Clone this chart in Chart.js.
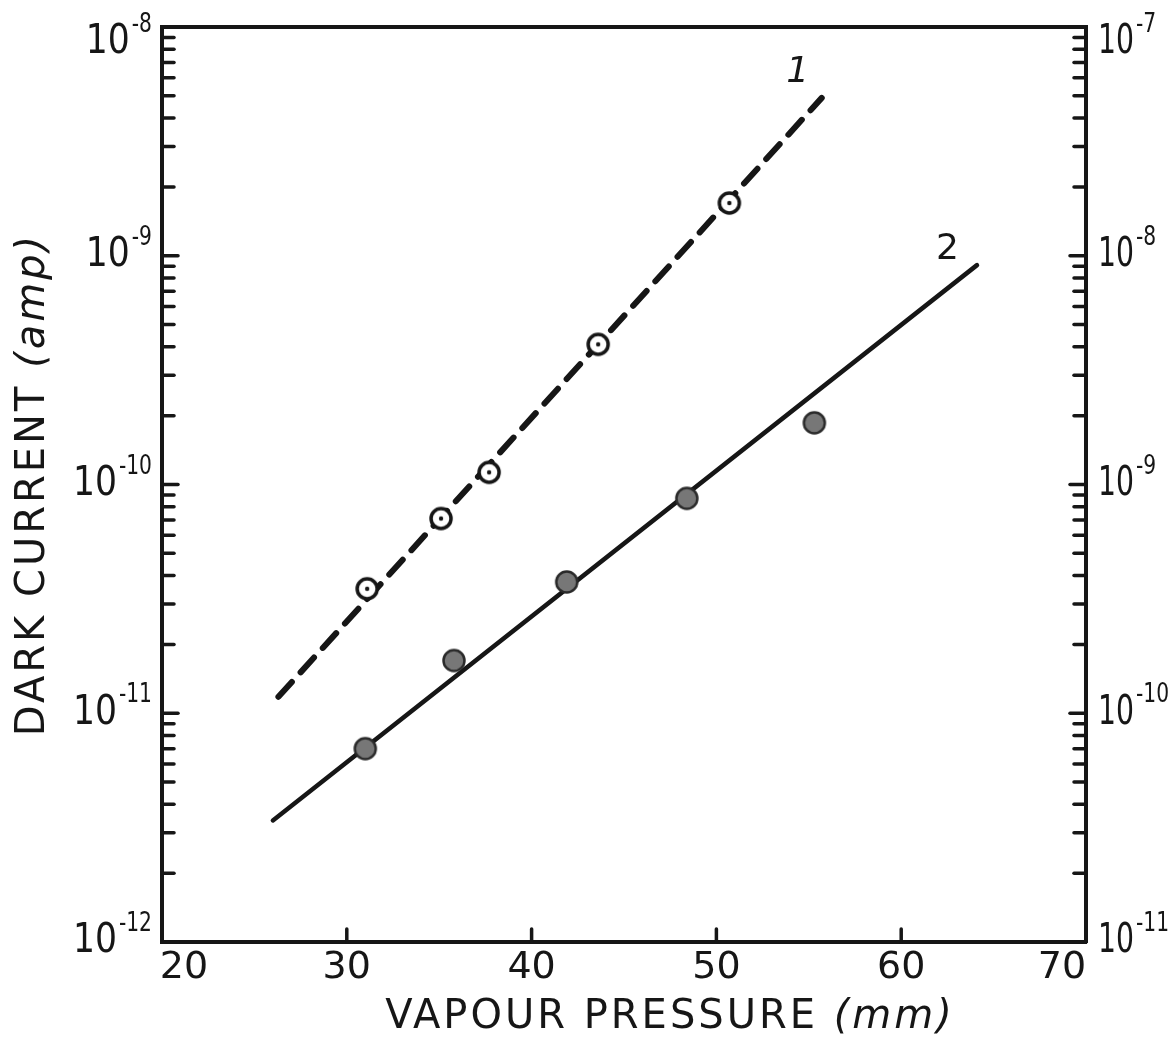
<!DOCTYPE html>
<html>
<head>
<meta charset="utf-8">
<title>Dark current vs vapour pressure</title>
<script src="https://cdn.jsdelivr.net/npm/chart.js@4.4.1/dist/chart.umd.min.js"></script>
<style>
  html, body { margin: 0; padding: 0; background: #fff; }
  #wrap { width: 1172px; height: 1042px; position: relative; }
</style>
</head>
<body>
<div id="wrap"><canvas id="chart"></canvas></div>
<script>
// Curve 1: open circles, dashed fit
const pressure1 = [31.1, 35.1, 37.7, 43.6, 50.7];
const current1 = [3.5e-11, 7.1e-11, 1.13e-10, 4.1e-10, 1.7e-9];
// Curve 2: filled circles, solid fit
const pressure2 = [31.0, 35.8, 41.9, 48.4, 55.3];
const current2 = [7.0e-12, 1.7e-11, 3.75e-11, 8.7e-11, 1.86e-10];

// End points of the straight fits
const fit1Pressure = [26.3, 55.7];
const fit1Current = [1.18e-11, 4.9e-9];
const fit2Pressure = [26.0, 64.1];
const fit2Current = [3.4e-12, 9.1e-10];

// Curve numbers
const curveNames = ['1', '2'];
const curveNamePressure = [54.4, 62.5];
const curveNameCurrent = [6.3e-9, 1.06e-9];

// Axes
const xTickValues = [20, 30, 40, 50, 60, 70];
const xInnerTicks = [30, 40, 50, 60];
const leftExponents = [-8, -9, -10, -11, -12];
const rightExponents = [-7, -8, -9, -10, -11];

const INK = '#161616';
const FONT = '"DejaVu Sans", "Liberation Sans", sans-serif';

const toPoints = (xs, ys) => xs.map((x, i) => ({ x: x, y: ys[i] }));

// open circle with a dot in the middle
function ringMarker() {
    const c = document.createElement('canvas');
    c.width = 28; c.height = 28;
    const g = c.getContext('2d');
    g.beginPath();
    g.arc(14, 14, 10, 0, Math.PI * 2);
    g.fillStyle = '#fff';
    g.fill();
    g.lineWidth = 3.5;
    g.strokeStyle = INK;
    g.stroke();
    g.beginPath();
    g.arc(14, 14, 2.2, 0, Math.PI * 2);
    g.fillStyle = INK;
    g.fill();
    return c;
}

// grey filled disc
function discMarker() {
    const c = document.createElement('canvas');
    c.width = 28; c.height = 28;
    const g = c.getContext('2d');
    g.beginPath();
    g.arc(14, 14, 10.5, 0, Math.PI * 2);
    g.fillStyle = '#777';
    g.fill();
    g.lineWidth = 2.5;
    g.strokeStyle = '#2a2a2a';
    g.stroke();
    return c;
}

function logTickValues(fromExp, toExp) {
    const vals = [];
    for (let e = fromExp; e < toExp; e++) {
        for (let m = 1; m <= 9; m++) vals.push(m * Math.pow(10, e));
    }
    vals.push(Math.pow(10, toExp));
    return vals;
}

// "10" with a raised exponent, squeezed a little like hand lettering
function drawPower(ctx, x, y, exp, align, baseMax) {
    const base = '10';
    const sup = '-' + Math.abs(exp);
    ctx.font = '40px ' + FONT;
    const wBase = Math.min(ctx.measureText(base).width, baseMax);
    ctx.font = '27px ' + FONT;
    const wSup = ctx.measureText(sup).width * 0.75;
    const left = align === 'right' ? x - wBase - wSup - 2 : x;
    ctx.textAlign = 'left';
    ctx.textBaseline = 'middle';
    ctx.font = '40px ' + FONT;
    ctx.fillText(base, left, y, wBase);
    ctx.font = '27px ' + FONT;
    ctx.fillText(sup, left + wBase + 2, y - 18, wSup);
}

const paperAxes = {
    id: 'paperAxes',
    afterDraw(chart) {
        const ctx = chart.ctx;
        const area = chart.chartArea;
        const x = chart.scales.x;
        const y = chart.scales.y;
        const y2 = chart.scales.y2;
        ctx.save();
        ctx.strokeStyle = INK;
        ctx.fillStyle = INK;
        ctx.lineCap = 'round';

        // inward ticks, left and right
        ctx.lineWidth = 3.5;
        logTickValues(-12, -8).forEach(v => {
            const py = y.getPixelForValue(v);
            const len = Math.abs(Math.log10(v) - Math.round(Math.log10(v))) < 1e-6 ? 16 : 12;
            ctx.beginPath();
            ctx.moveTo(area.left, py);
            ctx.lineTo(area.left + len, py);
            ctx.stroke();
        });
        logTickValues(-11, -7).forEach(v => {
            const py = y2.getPixelForValue(v);
            const len = Math.abs(Math.log10(v) - Math.round(Math.log10(v))) < 1e-6 ? 16 : 12;
            ctx.beginPath();
            ctx.moveTo(area.right, py);
            ctx.lineTo(area.right - len, py);
            ctx.stroke();
        });
        // inward ticks, bottom
        xInnerTicks.forEach(v => {
            const px = x.getPixelForValue(v);
            ctx.beginPath();
            ctx.moveTo(px, area.bottom);
            ctx.lineTo(px, area.bottom - 13);
            ctx.stroke();
        });

        // y tick labels
        leftExponents.forEach(e => {
            const py = Math.max(y.getPixelForValue(Math.pow(10, e)), area.top + 16);
            drawPower(ctx, area.left - 10, py, e, 'right', 44);
        });
        rightExponents.forEach(e => {
            const py = Math.max(y2.getPixelForValue(Math.pow(10, e)), area.top + 16);
            drawPower(ctx, area.right + 12, py, e, 'left', 36);
        });

        // x tick labels
        ctx.font = '38px ' + FONT;
        ctx.textAlign = 'center';
        ctx.textBaseline = 'middle';
        xTickValues.forEach((v, i) => {
            let px = x.getPixelForValue(v);
            if (i === 0) px += 22;
            if (i === xTickValues.length - 1) px -= 24;
            ctx.fillText(String(v), px, area.bottom + 26);
        });

        // axis titles
        if ('letterSpacing' in ctx) ctx.letterSpacing = '3px';
        ctx.textBaseline = 'middle';
        ctx.textAlign = 'left';
        const xt1 = 'VAPOUR PRESSURE ';
        const xt2 = '(mm)';
        ctx.font = '40px ' + FONT;
        const w1 = ctx.measureText(xt1).width;
        ctx.font = 'italic 40px ' + FONT;
        const w2 = ctx.measureText(xt2).width;
        const xStart = 670 - (w1 + w2) / 2;
        ctx.font = '40px ' + FONT;
        ctx.fillText(xt1, xStart, area.bottom + 76);
        ctx.font = 'italic 40px ' + FONT;
        ctx.fillText(xt2, xStart + w1, area.bottom + 76);

        ctx.save();
        ctx.translate(34, (area.top + area.bottom) / 2);
        ctx.rotate(-Math.PI / 2);
        const yt1 = 'DARK CURRENT ';
        const yt2 = '(amp)';
        ctx.font = '40px ' + FONT;
        const v1 = ctx.measureText(yt1).width;
        ctx.font = 'italic 40px ' + FONT;
        const v2 = ctx.measureText(yt2).width;
        const yStart = -(v1 + v2) / 2;
        ctx.font = '40px ' + FONT;
        ctx.fillText(yt1, yStart, 0);
        ctx.font = 'italic 40px ' + FONT;
        ctx.fillText(yt2, yStart + v1, 0);
        ctx.restore();
        if ('letterSpacing' in ctx) ctx.letterSpacing = '0px';

        // curve numbers
        ctx.textAlign = 'center';
        curveNames.forEach((t, i) => {
            ctx.font = (i === 0 ? 'italic ' : '') + '36px ' + FONT;
            ctx.fillText(t, x.getPixelForValue(curveNamePressure[i]), y.getPixelForValue(curveNameCurrent[i]));
        });
        ctx.restore();
    }
};

const hiddenAxis = {
    grid: { display: false, drawTicks: false },
    border: { display: true, color: INK, width: 4 },
    ticks: { display: false }
};

new Chart(document.getElementById('chart'), {
    type: 'scatter',
    data: {
        datasets: [
            {
                label: 'Curve 1',
                data: toPoints(pressure1, current1),
                pointStyle: ringMarker(),
                pointRadius: 11,
                showLine: false,
                order: 1
            },
            {
                label: 'Curve 2',
                data: toPoints(pressure2, current2),
                pointStyle: discMarker(),
                pointRadius: 11,
                showLine: false,
                order: 1
            },
            {
                label: 'Fit 1',
                data: toPoints(fit1Pressure, fit1Current),
                showLine: true,
                borderColor: INK,
                borderWidth: 6,
                borderDash: [20, 13],
                borderCapStyle: 'round',
                pointRadius: 0,
                order: 2
            },
            {
                label: 'Fit 2',
                data: toPoints(fit2Pressure, fit2Current),
                showLine: true,
                borderColor: INK,
                borderWidth: 4.5,
                borderCapStyle: 'round',
                pointRadius: 0,
                order: 2
            }
        ]
    },
    options: {
        responsive: true,
        maintainAspectRatio: false,
        animation: false,
        layout: { padding: 0 },
        plugins: {
            legend: { display: false },
            tooltip: { enabled: false }
        },
        scales: {
            x: {
                ...hiddenAxis,
                type: 'linear',
                position: 'bottom',
                min: 20,
                max: 70,
                afterFit: s => { s.height = 100; }
            },
            xTop: {
                ...hiddenAxis,
                type: 'linear',
                position: 'top',
                min: 20,
                max: 70,
                afterFit: s => { s.height = 27; }
            },
            y: {
                ...hiddenAxis,
                type: 'logarithmic',
                position: 'left',
                min: 1e-12,
                max: 1e-8,
                afterFit: s => { s.width = 162; }
            },
            y2: {
                ...hiddenAxis,
                type: 'logarithmic',
                position: 'right',
                min: 1e-11,
                max: 1e-7,
                afterFit: s => { s.width = 86; }
            }
        }
    },
    plugins: [paperAxes]
});
</script>
</body>
</html>
